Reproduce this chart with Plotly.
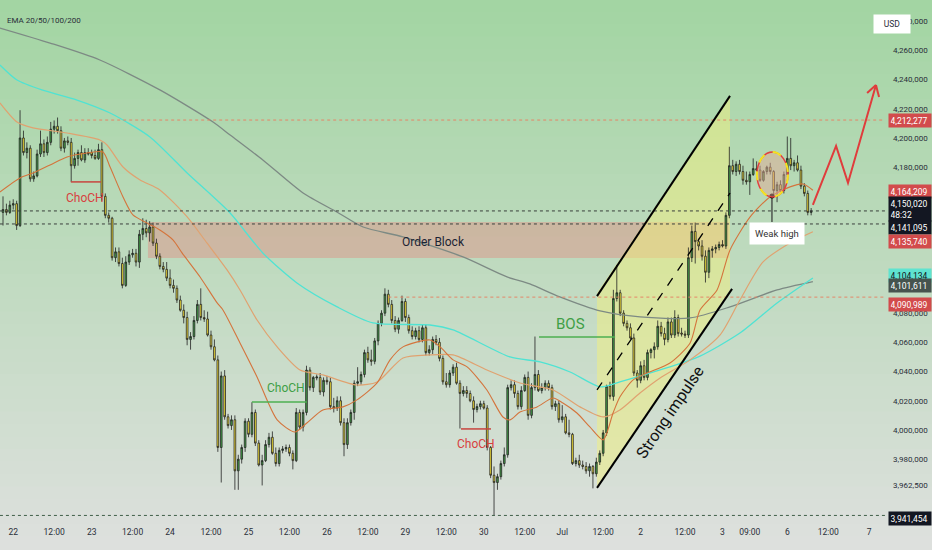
import numpy as np
import plotly.graph_objects as go

# hourly candles, prices in thousands of USD (scaled by K below)
OPEN = [
    4149, 4151, 4149, 4154, 4155, 4140, 4200, 4190, 4193, 4172,
    4174, 4189, 4196, 4190, 4197, 4206, 4208, 4205, 4193, 4198,
    4197, 4181, 4186, 4190, 4185, 4190, 4190, 4188, 4186, 4192,
    4160, 4147, 4145, 4118, 4122, 4114, 4099, 4115, 4120, 4121,
    4115, 4134, 4138, 4135, 4139, 4128, 4119, 4112, 4110, 4104,
    4099, 4097, 4089, 4082, 4077, 4062, 4064, 4075, 4086, 4077,
    4076, 4065, 4057, 4048, 3988, 4037, 4009, 4003, 4007, 3972,
    3980, 3988, 4006, 3997, 4012, 3991, 3976, 3979, 3990, 3995,
    3984, 3977, 3986, 3987, 3988, 3984, 3979, 4012, 4002, 4012,
    4041, 4029, 4035.6, 4036, 4026, 4034, 4033, 4016, 4015, 4020,
    4005, 3990, 4005, 4012, 4032, 4033, 4038, 4053, 4048, 4047,
    4061, 4073, 4080, 4093, 4086, 4075, 4069, 4075, 4088, 4077,
    4068, 4064, 4068, 4062, 4070, 4053, 4055, 4062, 4060, 4049,
    4033, 4031, 4039, 4043, 4032, 4025, 4027, 4025, 4020, 4014,
    4016, 4018, 4015, 3988, 3969, 3964, 3968, 3977, 3983, 4029,
    4031, 4025, 4016, 4027, 4036, 4010, 4029, 4038, 4027, 4029,
    4032, 4029, 4016, 4018, 4007, 4009, 3998, 3997, 3977, 3979,
    3976, 3975, 3972, 3975, 3970, 3978, 3984, 3998, 4030, 4023,
    4090, 4094, 4080, 4073, 4070, 4063, 4039, 4034, 4044, 4036,
    4053, 4055, 4057, 4071, 4066, 4062, 4074, 4065, 4077, 4066.4,
    4065.7, 4065, 4118, 4136, 4129, 4126, 4119, 4108, 4123, 4124,
    4125, 4127, 4126, 4147, 4181, 4177, 4182, 4177, 4171, 4170,
    4175, 4179, 4178, 4171, 4177, 4180, 4177, 4164, 4168, 4164,
    4175, 4186, 4181, 4183, 4178, 4167, 4162, 4149,
]
HIGH = [
    4160, 4155, 4157, 4158, 4157, 4219, 4205, 4197, 4195, 4177,
    4192, 4205, 4199, 4201, 4211, 4212, 4214, 4208, 4200, 4201,
    4200, 4190, 4192, 4195, 4193, 4193, 4192, 4192, 4196, 4197,
    4162, 4149, 4146, 4125, 4125, 4118, 4119, 4123, 4124, 4124,
    4137, 4145, 4144, 4143, 4142, 4131, 4121, 4115, 4115, 4110,
    4103, 4099, 4092, 4086, 4081, 4067, 4078, 4089, 4097, 4082,
    4081, 4068, 4062, 4051, 4040, 4041, 4011, 4010, 4010, 3983,
    3990, 4008, 4008, 4019, 4014, 3993, 3983, 3993, 3998, 3999,
    3988, 3988, 3989, 3990, 3990, 3986, 4015, 4014, 4014, 4044,
    4043, 4037, 4038, 4039, 4036, 4037, 4036, 4022, 4023, 4023,
    4008, 4008, 4014, 4034, 4043, 4040, 4055, 4057, 4055, 4063,
    4075, 4082, 4097, 4096, 4089, 4078, 4077, 4092, 4090, 4079,
    4071, 4070, 4071, 4072, 4072, 4058, 4064, 4065, 4063, 4051,
    4039, 4041, 4045, 4046, 4034, 4030, 4030, 4027, 4023, 4018,
    4020, 4020, 4017, 3989, 3975, 3970, 3979, 3988, 4031, 4034,
    4034, 4027, 4030, 4038, 4040, 4032, 4064, 4041, 4032, 4034,
    4034, 4031, 4020, 4020, 4017, 4011, 4007, 3998, 3981, 3983,
    3979, 3978, 3977, 3976, 3981, 3986, 4000, 4031, 4033, 4096,
    4113, 4096, 4082, 4075, 4073, 4066, 4041, 4047, 4048, 4055,
    4056, 4060, 4075, 4074, 4070, 4077, 4077, 4082, 4079, 4070,
    4068, 4125, 4140, 4142, 4131, 4130, 4123, 4125, 4126, 4127,
    4129, 4130, 4149, 4194, 4185, 4184, 4185, 4181, 4177, 4177,
    4186, 4184, 4181, 4178, 4181, 4183, 4178, 4170, 4171, 4177,
    4201, 4200, 4185, 4188, 4181, 4169, 4164, 4152,
]
LOW = [
    4140, 4147, 4148, 4151, 4137, 4139, 4188, 4186, 4170, 4170,
    4173, 4187, 4187, 4188, 4195, 4203, 4203, 4191, 4190, 4195,
    4170, 4179, 4181, 4184, 4183, 4188, 4186, 4185, 4185, 4157,
    4145, 4142, 4116, 4115, 4112, 4097, 4098, 4113, 4118, 4112,
    4111, 4130, 4132, 4129, 4126, 4117, 4110, 4108, 4102, 4097,
    4094, 4087, 4081, 4073, 4058, 4055, 4062, 4073, 4075, 4074,
    4064, 4055, 4047, 3985, 3964, 4007, 4001, 4000, 3959, 3959,
    3977, 3985, 3995, 3995, 3989, 3975, 3962, 3978, 3988, 3983,
    3975, 3975, 3984, 3985, 3982, 3973, 3978, 4000, 3999, 4010,
    4027, 4026, 4034, 4024, 4023, 4031, 4014, 4012, 4013, 4003,
    3982, 3987, 4003, 4007, 4030, 4031, 4036, 4046, 4044, 4045,
    4058, 4071, 4078, 4084, 4073, 4067, 4066, 4074, 4074, 4066,
    4062, 4062, 4060, 4060, 4051, 4051, 4052, 4058, 4047, 4031,
    4029, 4029, 4037, 4031, 4001, 4023, 4022, 4019, 4005, 4012,
    4014, 4014, 3986, 3967, 3941.454, 3959, 3966, 3975, 3981, 4027,
    4022, 4014, 4014, 4026, 4007, 4008, 4027, 4026, 4025, 4027,
    4027, 4014, 4013, 4005, 4005, 3997, 3995, 3976, 3975, 3974,
    3973, 3970, 3968, 3960, 3968, 3976, 3982, 3996, 4021, 4020,
    4088, 4078, 4071, 4068, 4062, 4037, 4029, 4032, 4034, 4034,
    4049, 4049, 4055, 4064, 4058, 4060, 4063, 4063, 4064, 4064,
    4063, 4063, 4115, 4114, 4123, 4116, 4101, 4104, 4118, 4121,
    4123, 4125, 4124, 4145, 4175, 4174, 4175, 4168, 4168, 4161,
    4174, 4177, 4170, 4170, 4175, 4175, 4160, 4156, 4163, 4162,
    4173, 4178, 4177, 4177, 4165, 4160, 4147, 4147,
]
CLOSE = [
    4151, 4149, 4154, 4155, 4140, 4200, 4190, 4193, 4172, 4174,
    4189, 4196, 4190, 4197, 4206, 4208, 4205, 4193, 4198, 4197,
    4181, 4186, 4190, 4185, 4190, 4189, 4188, 4186, 4192, 4160,
    4147, 4145, 4118, 4122, 4114, 4099, 4115, 4120, 4121, 4115,
    4134, 4138, 4135, 4139, 4128, 4119, 4112, 4110, 4104, 4099,
    4097, 4089, 4082, 4077, 4062, 4064, 4075, 4086, 4077, 4076,
    4065, 4057, 4048, 3988, 4037, 4009, 4003, 4007, 3972, 3980,
    3988, 4006, 3997, 4012, 3991, 3976, 3979, 3990, 3995, 3984,
    3977, 3986, 3987, 3988, 3984, 3979, 4012, 4002, 4012, 4041,
    4029, 4036, 4036.3, 4026, 4034, 4033, 4016, 4015, 4020, 4005,
    3990, 4005, 4012, 4032, 4033, 4038, 4053, 4048, 4047, 4061,
    4073, 4080, 4093, 4086, 4075, 4069, 4075, 4088, 4077, 4068,
    4064, 4068, 4062, 4070, 4053, 4055, 4062, 4060, 4049, 4033,
    4031, 4039, 4043, 4032, 4025, 4027, 4025, 4020, 4014, 4016,
    4018, 4015, 3988, 3969, 3964, 3968, 3977, 3983, 4029, 4031,
    4025, 4016, 4027, 4036, 4010, 4029, 4038, 4027, 4029, 4032,
    4029, 4016, 4018, 4007, 4009, 3998, 3997, 3977, 3979, 3976,
    3975, 3972, 3975, 3970, 3978, 3984, 3998, 4030, 4023, 4090,
    4094, 4080, 4073, 4070, 4063, 4039, 4034, 4044, 4036, 4053,
    4055, 4057, 4071, 4066, 4062, 4074, 4065, 4077, 4066, 4065.7,
    4065, 4118, 4136, 4129, 4126, 4119, 4108, 4123, 4124, 4125,
    4127, 4126, 4147, 4181, 4177, 4182, 4177, 4171, 4170, 4175,
    4179, 4178, 4171, 4177, 4180, 4177, 4164, 4168, 4164, 4175,
    4186, 4181, 4183, 4178, 4167, 4162, 4149, 4150.02,
]

# EMA curves (bar index, price in thousands)
EMA20_X = [-0.9, 5.0, 8.8, 13.8, 18.8, 24.6, 29.3, 31.4, 35.2, 38.1, 42.2, 46.0, 49.9, 52.5,
           57.8, 62.8, 64.5, 69.5, 74.5, 80.4, 85.6, 89.1, 93.8, 99.7, 103.8, 109.7, 113.5,
           117.3, 125.2, 128.2, 132.0, 136.1, 141.9, 146.6, 148.7, 151.6, 156.6, 161.3, 164.2,
           168.3, 172.1, 176.0, 178.9, 180.9, 184.8, 188.9, 195.6, 201.5, 204.4, 209.4, 213.2,
           219.1, 224.9, 230.8, 234.6, 237.5]
EMA20_Y = [4163.0, 4172.6, 4176.0, 4181.5, 4187.0, 4189.7, 4190.4, 4180.1, 4159.6, 4147.3,
           4141.8, 4137.0, 4130.1, 4121.3, 4104.8, 4087.0, 4082.2, 4059.6, 4036.3, 4006.9,
           3998.6, 4004.8, 4013.7, 4015.8, 4020.6, 4032.2, 4048.0, 4056.9, 4061.6, 4056.9,
           4048.0, 4043.2, 4027.4, 4008.9, 4006.9, 4012.3, 4015.8, 4021.9, 4018.5, 4011.6,
           4002.1, 3993.2, 4011.6, 4022.6, 4034.3, 4039.0, 4045.9, 4059.6, 4082.2, 4095.9,
           4123.3, 4145.9, 4159.6, 4166.5, 4168.5, 4164.209]
EMA50_X = [-0.9, 4.1, 8.8, 18.8, 28.4, 30.5, 35.2, 40.2, 46.0, 54.0, 59.8, 65.7, 69.5, 74.5,
           80.4, 87.1, 93.8, 103.8, 109.7, 117.3, 125.2, 132.0, 141.9, 151.6, 161.3, 169.2,
           176.0, 180.9, 186.8, 192.7, 201.5, 210.3, 216.1, 222.9, 230.8, 237.5]
EMA50_Y = [4224.0, 4210.9, 4206.9, 4203.4, 4198.6, 4195.2, 4180.1, 4171.2, 4164.4, 4145.9,
           4128.1, 4109.6, 4095.9, 4075.3, 4056.9, 4041.1, 4037.7, 4030.8, 4032.9, 4049.3,
           4051.4, 4051.4, 4041.1, 4032.2, 4027.4, 4015.8, 4008.9, 4013.7, 4025.3, 4035.6,
           4048.0, 4065.1, 4089.0, 4115.1, 4128.1, 4135.74]
EMA100_X = [-0.9, 4.1, 11.4, 21.7, 31.4, 43.1, 54.0, 66.6, 76.2, 86.2, 98.0, 108.5, 125.2,
            132.0, 148.7, 157.5, 166.3, 175.1, 180.9, 192.7, 204.4, 216.1, 227.0, 237.5]
EMA100_Y = [4250.0, 4239.7, 4232.9, 4226.0, 4217.1, 4200.7, 4176.0, 4148.6, 4121.2, 4100.7,
            4084.3, 4073.3, 4071.9, 4068.5, 4050.0, 4046.6, 4039.7, 4029.5, 4032.9, 4041.1,
            4050.6, 4066.4, 4087.0, 4104.134]
EMA200_X = [-0.9, 13.8, 28.4, 46.0, 61.6, 66.6, 76.2, 88.0, 97.9, 105.6, 117.3, 134.9, 147.8,
            154.5, 163.3, 175.1, 186.8, 201.5, 213.2, 227.0, 237.5]
EMA200_Y = [4275.3, 4265.0, 4253.4, 4232.9, 4210.9, 4202.0, 4184.9, 4162.3, 4149.3, 4139.0,
            4132.2, 4118.5, 4104.8, 4100.0, 4091.1, 4081.5, 4077.4, 4076.7, 4084.3, 4095.9,
            4101.611]

TICK_BARS = [3, 15, 26, 38, 49, 61, 72, 84, 95, 107, 118, 130, 141, 153, 164, 176, 187, 200,
             211, 219, 230, 242, 254]
TICK_TEXT = ["22", "12:00", "23", "12:00", "24", "12:00", "25", "12:00", "26", "12:00", "29",
             "12:00", "30", "12:00", "Jul", "12:00", "2", "12:00", "3", "09:00", "6", "12:00", "7"]
PRICE_TICKS = [3962500, 3980000, 4000000, 4020000, 4040000, 4060000, 4080000,
               4180000, 4200000, 4220000, 4240000, 4260000, 4280000]

K = 1000
FONT = "Roboto, Liberation Sans, sans-serif"
W, H = 932, 550
PW, PH = 885, 525  # plot area in pixels

bars = np.arange(len(CLOSE))

fig = go.Figure()
fig.add_trace(go.Candlestick(
    x=bars,
    open=np.array(OPEN) * K, high=np.array(HIGH) * K,
    low=np.array(LOW) * K, close=np.array(CLOSE) * K,
    increasing=dict(fillcolor="#43a047", line=dict(color="#222222", width=0.8)),
    decreasing=dict(fillcolor="#ffeb3b", line=dict(color="#222222", width=0.8)),
    whiskerwidth=0, hoverinfo="skip",
))

for xs, ys, color, width in [
    (EMA200_X, EMA200_Y, "#7d8a84", 1.3),
    (EMA100_X, EMA100_Y, "#4fe3d3", 1.3),
    (EMA50_X, EMA50_Y, "#e0a270", 1.2),
    (EMA20_X, EMA20_Y, "#d4743c", 1.1),
]:
    fig.add_trace(go.Scatter(
        x=xs, y=np.array(ys) * K, mode="lines",
        line=dict(color=color, width=width, shape="spline", smoothing=0.7),
        hoverinfo="skip",
    ))

shapes = []

# vertical background gradient, green on top to grey at the bottom
top, bottom = np.array([162, 213, 162]), np.array([222, 224, 222])
nb = 44
for i in range(nb):
    c = top + (bottom - top) * (i + 0.5) / nb
    y0 = (PH - i * H / nb) / PH
    y1 = (PH - (i + 1) * H / nb) / PH
    shapes.append(dict(type="rect", xref="paper", yref="paper", x0=0, x1=W / PW,
                       y0=y1, y1=y0 + 0.002, layer="below", line=dict(width=0),
                       fillcolor=f"rgb({c[0]:.0f},{c[1]:.0f},{c[2]:.0f})"))

# order block + impulse channel fills
shapes.append(dict(type="rect", x0=42.5, x1=213.0, y0=4117.8 * K, y1=4142.4 * K,
                   fillcolor="rgba(225,140,130,0.45)", line=dict(width=0), layer="below"))
shapes.append(dict(type="path", layer="below", line=dict(width=0),
                   fillcolor="rgba(242,240,125,0.5)",
                   path=f"M 174.2,{4093.8*K} L 213.2,{4228.8*K} L 213.2,{4095.9*K} "
                        f"L 174.2,{3960.9*K} Z"))


def hline(y, x0, x1, color, dash="dot", width=1):
    shapes.append(dict(type="line", x0=x0, x1=x1, y0=y, y1=y,
                       line=dict(color=color, width=width, dash=dash)))


def seg(x0, y0, x1, y1, color, width=2, dash="solid"):
    shapes.append(dict(type="line", x0=x0, x1=x1, y0=y0 * K, y1=y1 * K,
                       line=dict(color=color, width=width, dash=dash)))


xend = 258.65
hline(4212277, 19.4, xend, "rgba(232,130,100,0.95)")
hline(4090989, 113, xend, "rgba(232,130,100,0.95)")
hline(4150020, -0.9, xend, "#3a3f3c")
hline(4141095, -0.9, xend, "#3a3f3c")
hline(3941454, -0.9, xend, "#3f5f48")

# channel lines
seg(174.2, 4091.7, 213.2, 4228.8, "black", 2)
seg(174.2, 3960.3, 213.8, 4096.6, "black", 2)
seg(174.2, 4027.4, 213.2, 4162.3, "black", 1.3, "dash")

# structure markers
seg(157.2, 4063.7, 179.5, 4063.7, "#4caf50", 1.5)
seg(19.9, 4169.9, 28.7, 4169.9, "#c8453f", 1.5)
seg(73.0, 4019.2, 89.1, 4019.2, "#4caf50", 1.5)
seg(134.3, 4000.7, 143.1, 4000.7, "#c8453f", 1.5)

# weak high pointer + highlight
seg(225.5, 4142.5, 225.5, 4160.3, "#333333", 1.2)
shapes.append(dict(type="circle", xsizemode="pixel", ysizemode="pixel", xanchor=225.5,
                   yanchor=4160.3 * K, x0=-2.5, x1=2.5, y0=-2.5, y1=2.5,
                   fillcolor="black", line=dict(width=0)))
shapes.append(dict(type="circle", x0=221.1, x1=230.2, y0=4159.6 * K, y1=4190.4 * K,
                   fillcolor="rgba(225,170,150,0.5)", line=dict(color="#e04040", width=1.5)))
shapes.append(dict(type="circle", x0=221.1, x1=230.2, y0=4159.6 * K, y1=4190.4 * K,
                   line=dict(color="#f3e322", width=2, dash="dash")))

# projected path
shapes.append(dict(type="path", line=dict(color="#e03c3c", width=2),
                   fillcolor="rgba(0,0,0,0)",
                   path=f"M 237.5,{4154.1*K} L 244.3,{4194.5*K} L 247.8,{4169.2*K} "
                        f"L 256.0,{4236.3*K}"))
seg(253.4, 4230.8, 256.0, 4236.3, "#e03c3c", 2)
seg(256.9, 4228.1, 256.0, 4236.3, "#e03c3c", 2)

ann = []


def label(x, y, text, color, size=12, **kw):
    ann.append(dict(x=x, y=y * K, text=text, showarrow=False,
                    font=dict(family=FONT, size=size, color=color), **kw))


label(24.0, 4158.9, "ChoCH", "#d8413f")
label(83.0, 4028.7, "ChoCH", "#3f9f46")
label(138.7, 3990.4, "ChoCH", "#d8413f")
label(166.3, 4072.6, "BOS", "#3f9f46", 15)
label(126.1, 4128.8, "Order Block", "#1b2433", 12)
label(195.6, 4011.7, "Strong impulse", "#111111", 16, textangle=-56)
label(227.0, 4134.3, "Weak high", "#333333", 9.5, bgcolor="white", borderpad=5)

ann.append(dict(xref="paper", yref="paper", x=5 / PW, y=(PH - 14) / PH, xanchor="left",
                text="EMA 20/50/100/200", showarrow=False,
                font=dict(family=FONT, size=8, color="#2a2e39")))
ann.append(dict(xref="paper", yref="paper", x=911 / PW, y=(PH - 14) / PH, text="USD",
                showarrow=False, bgcolor="white", borderpad=4, width=28,
                font=dict(family=FONT, size=8.5, color="#2a2e39")))

# right-axis price tags: value, text colour, background, vertical nudge (px)
for val, txt, fg, bg, dy in [
    (4212277, "4,212,277", "white", "#d24b4c", 0),
    (4164209, "4,164,209", "white", "#d24b4c", -1),
    (4150020, "4,150,020<br>48:32", "white", "#131722", 2),
    (4141095, "4,141,095", "white", "#131722", -4),
    (4135740, "4,135,740", "white", "#d24b4c", -10),
    (4104134, "4,104,134", "#131722", "#5fe3d0", 2),
    (4101611, "4,101,611", "white", "#46534e", -4),
    (4090989, "4,090,989", "white", "#d24b4c", -7),
    (3941454, "3,941,454", "white", "#131722", -3),
]:
    ann.append(dict(xref="paper", x=1 + 3 / PW, y=val, yshift=dy, xanchor="left",
                    text=txt, showarrow=False, bgcolor=bg, borderpad=1.5, width=39,
                    align="left", font=dict(family=FONT, size=8.5, color=fg)))

fig.update_layout(
    width=W, height=H,
    margin=dict(l=0, r=W - PW, t=0, b=H - PH),
    paper_bgcolor="rgb(222,224,222)", plot_bgcolor="rgba(0,0,0,0)",
    showlegend=False, hovermode=False,
    shapes=shapes, annotations=ann,
    font=dict(family=FONT, size=9, color="#2a2e39"),
    xaxis=dict(range=[-0.88, xend], showgrid=False, zeroline=False, rangeslider_visible=False,
               tickvals=TICK_BARS, ticktext=TICK_TEXT, ticks="",
               tickfont=dict(family=FONT, size=8.5, color="#2a2e39")),
    yaxis=dict(range=[3934900, 4294500], side="right", showgrid=False, zeroline=False,
               tickvals=PRICE_TICKS, tickformat=",d", ticks="", ticklabelstandoff=7,
               tickfont=dict(family=FONT, size=8, color="#2a2e39")),
)

# the page body has a default 8px margin; drop it so the figure fills the window
fig.write_html("out.html", config={"displayModeBar": False},
               post_script="document.body.style.margin='0';")
